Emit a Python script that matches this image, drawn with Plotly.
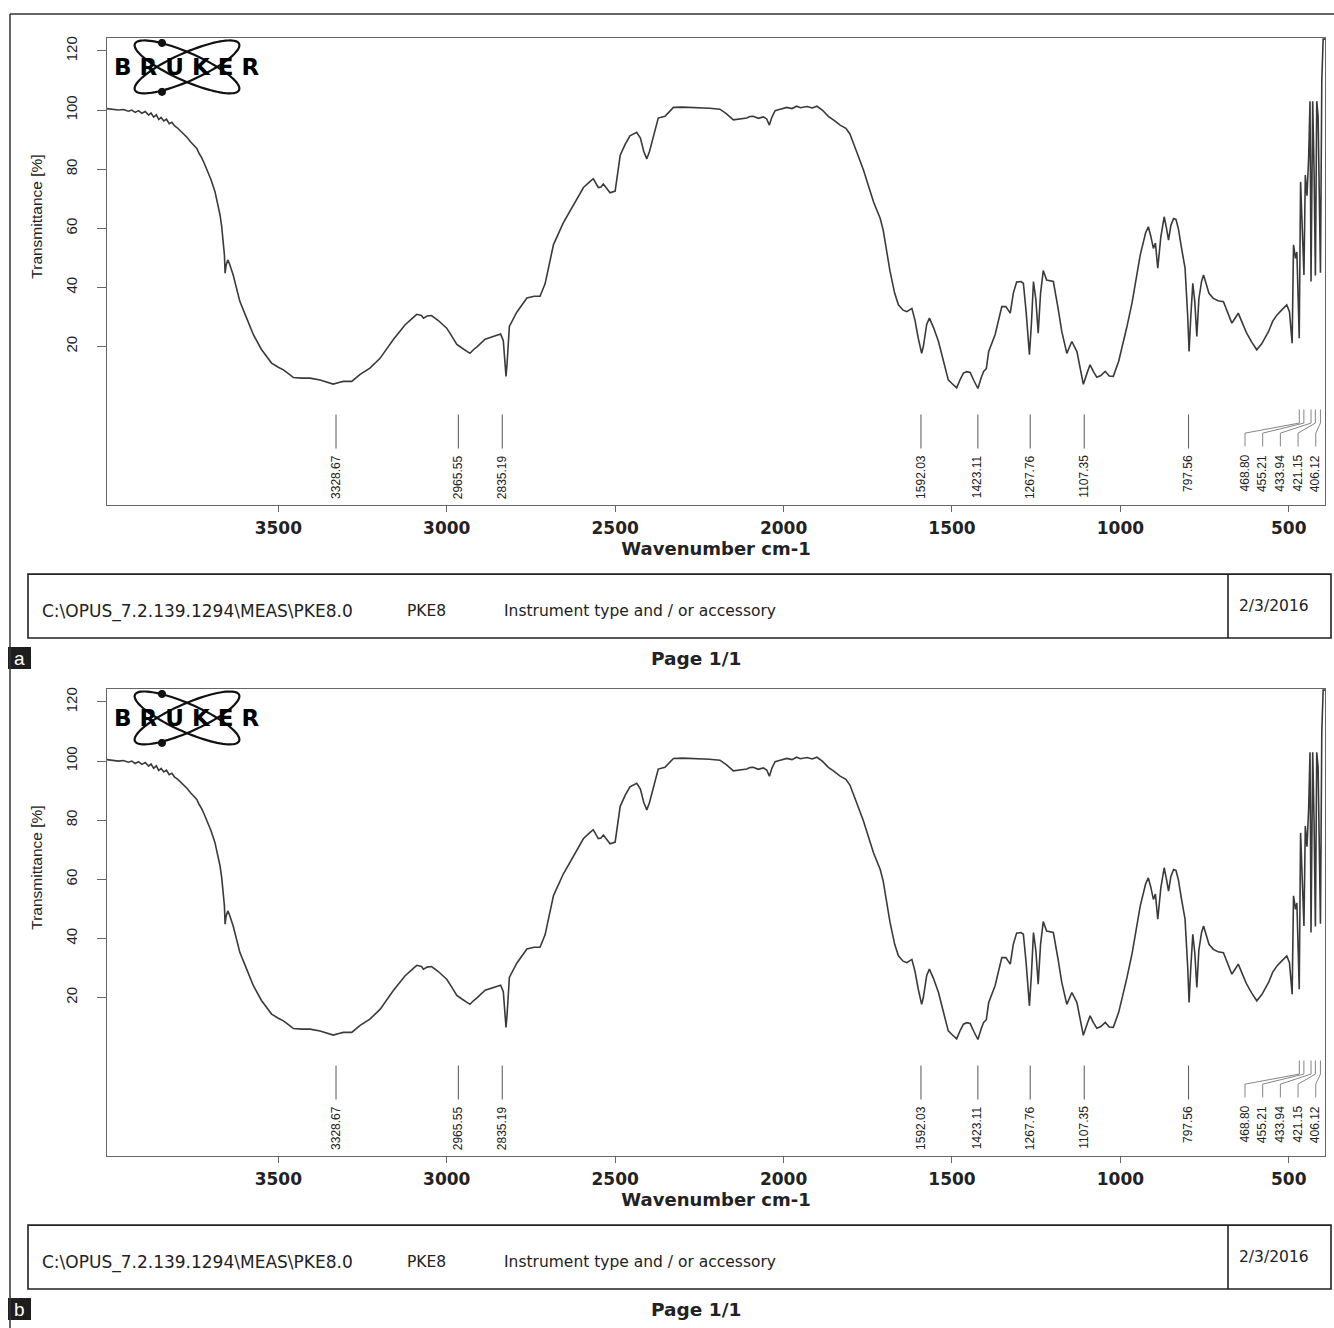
import numpy as np
import plotly.graph_objects as go

W, H = 1334, 1328

# ---------------- data ----------------
wavenumber = [
    4009, 3990, 3975, 3960, 3945, 3935, 3925, 3915, 3905, 3895,
    3885, 3878, 3870, 3862, 3855, 3848, 3840, 3832, 3824, 3816,
    3808, 3800, 3790, 3780, 3772, 3760, 3750, 3742, 3735, 3728,
    3720, 3713, 3700, 3688, 3680, 3673, 3668, 3663, 3660, 3658,
    3655, 3650, 3645, 3634, 3620, 3614, 3594, 3574, 3550, 3520,
    3500, 3485, 3470, 3455, 3430, 3406, 3376, 3355, 3337, 3320,
    3307, 3282, 3257, 3228, 3198, 3159, 3124, 3100, 3089, 3075,
    3069, 3058, 3045, 3025, 3000, 2985, 2970, 2955, 2945, 2931,
    2920, 2911, 2886, 2870, 2852, 2840, 2832, 2826, 2824, 2821,
    2817, 2814, 2792, 2775, 2762, 2740, 2723, 2708, 2695, 2683,
    2654, 2624, 2594, 2575, 2565, 2550, 2542, 2535, 2525, 2515,
    2500, 2485, 2470, 2456, 2436, 2425, 2415, 2406, 2398, 2387,
    2372, 2352, 2340, 2327, 2300, 2258, 2220, 2189, 2170, 2149,
    2130, 2109, 2100, 2090, 2075, 2060, 2050, 2042, 2035, 2025,
    2010, 1990, 1975, 1961, 1950, 1930, 1915, 1901, 1885, 1867,
    1850, 1832, 1815, 1803, 1785, 1763, 1733, 1713, 1704, 1684,
    1670, 1659, 1645, 1634, 1619, 1610, 1600, 1595, 1590, 1585,
    1575, 1567, 1555, 1540, 1525, 1511, 1500, 1486, 1475, 1466,
    1456, 1446, 1435, 1423, 1413, 1406, 1398, 1391, 1372, 1352,
    1340, 1327, 1318, 1308, 1295, 1288, 1280, 1270, 1264, 1258,
    1251, 1244, 1237, 1229, 1219, 1199, 1185, 1174, 1159, 1150,
    1144, 1129, 1118, 1110, 1099, 1090, 1080, 1070, 1058, 1045,
    1033, 1021, 1005, 995, 981, 965, 941, 925, 917, 910,
    902, 896, 889, 880, 870, 863, 857, 850, 842, 835,
    828, 818, 808, 800, 796, 791, 785, 779, 773, 767,
    759, 753, 745, 737, 724, 710, 694, 680, 669, 660,
    650, 638, 625, 610, 595, 580, 560, 548, 535, 520,
    506, 498, 490, 486, 480, 476, 469, 465, 460, 455,
    451, 446, 441, 437, 434, 429, 425, 421, 417, 413,
    406, 402, 398, 392,
]
transmittance = [
    100.5, 100.3, 100.0, 100.2, 99.6, 100.0, 99.2, 99.8, 98.9, 99.5,
    98.3, 99.0, 97.6, 98.4, 96.8, 97.5, 96.3, 96.9, 95.4, 95.9,
    94.6, 94.0, 93.0, 91.8, 90.9, 89.2, 88.0, 87.0, 85.3, 84.0,
    82.0, 80.2, 76.5, 72.4, 68.5, 64.5, 60.5, 55.5, 51.0, 44.8,
    47.5, 49.3, 48.0, 44.2, 38.0, 35.2, 29.6, 24.0, 19.0, 14.4,
    13.0, 12.1, 10.8, 9.5, 9.3, 9.3, 8.7, 8.0, 7.3, 7.8,
    8.2, 8.2, 10.6, 12.7, 16.0, 22.3, 27.3, 29.8, 30.9, 30.5,
    29.6, 30.3, 30.5, 28.8, 26.2, 23.5, 20.7, 19.5, 18.8, 17.7,
    19.0, 19.8, 22.5, 23.0, 23.7, 24.2, 22.0, 12.0, 9.9, 14.0,
    23.0, 26.8, 31.6, 34.5, 36.4, 37.0, 37.0, 41.2, 48.0, 54.5,
    61.8, 67.8, 73.8, 75.8, 76.8, 73.8, 74.0, 75.0, 73.5, 72.0,
    72.6, 84.7, 88.5, 91.3, 92.5, 90.5, 86.0, 83.5, 86.0, 90.7,
    97.3, 97.9, 99.5, 100.9, 101.0, 100.9, 100.6, 100.3, 98.8, 96.7,
    97.0, 97.3, 97.8, 97.9, 97.2, 97.7, 97.0, 94.9, 97.5, 99.8,
    100.3, 100.9, 100.5, 101.3, 100.8, 101.2, 100.7, 101.3, 100.0, 97.9,
    96.5, 94.9, 93.8, 91.9, 86.5, 79.8, 69.0, 63.3, 59.3, 45.5,
    38.0, 34.1, 32.3, 31.8, 32.9, 29.0, 22.8, 20.5, 17.7, 20.0,
    27.5, 29.6, 26.5, 21.7, 15.0, 8.7, 7.5, 6.0, 9.0, 11.0,
    11.5, 11.2, 8.5, 5.8, 9.5, 11.6, 12.5, 18.3, 24.0, 33.5,
    33.5, 31.3, 38.0, 41.8, 42.0, 41.4, 32.0, 17.2, 28.0, 42.0,
    36.0, 24.5, 38.0, 45.7, 42.5, 42.0, 33.0, 25.1, 17.7, 20.5,
    21.7, 18.3, 12.0, 7.2, 11.0, 13.8, 11.5, 9.6, 10.2, 11.6,
    10.0, 9.9, 15.0, 19.5, 26.5, 35.0, 51.0, 58.5, 60.5, 57.5,
    53.2, 55.0, 46.5, 57.0, 63.9, 60.0, 56.0, 61.0, 63.3, 63.0,
    60.0, 53.0, 46.5, 30.0, 18.3, 30.0, 41.4, 35.0, 23.4, 36.0,
    42.0, 44.2, 41.0, 38.0, 36.3, 35.5, 35.2, 31.0, 27.9, 29.5,
    31.3, 28.0, 24.5, 21.5, 18.9, 21.0, 25.1, 28.5, 30.7, 32.5,
    34.1, 31.8, 21.1, 54.4, 49.8, 52.0, 22.8, 75.7, 60.0, 44.2,
    78.0, 71.0, 84.0, 103.0, 42.0, 103.0, 80.0, 44.0, 103.0, 98.0,
    45.0, 110.0, 124.0, 124.0,
]
assert len(wavenumber) == len(transmittance)

peak_labels = [3328.67, 2965.55, 2835.19, 1592.03, 1423.11, 1267.76, 1107.35, 797.56]
cluster_labels = [468.80, 455.21, 433.94, 421.15, 406.12]

x_ticks = [3500, 3000, 2500, 2000, 1500, 1000, 500]
y_ticks = [20, 40, 60, 80, 100, 120]

file_path = "C:\\OPUS_7.2.139.1294\\MEAS\\PKE8.0"
sample_name = "PKE8"
instrument = "Instrument type and / or accessory"
date_text = "2/3/2016"
page_text = "Page 1/1"
panel_letters = ["a", "b"]

# ---------------- layout helpers ----------------
def px(x):
    return x / W


def py(y):
    return 1 - y / H


X_RANGE = [4008.6, 392.5]
Y_RANGE = [-33.7, 124.4]
PLOT_L, PLOT_R, PLOT_T, PLOT_B = 107, 1325, 36, 504
DY = 652

INK = "#222222"
FRAME = "#666666"
NARROW = "Liberation Sans, Arial, sans-serif"
WIDE = "DejaVu Sans, Verdana, sans-serif"

fig = go.Figure()
shapes = []
annotations = []

for i, dy in enumerate([0, DY]):
    sfx = "" if i == 0 else "2"
    xa, ya = "x" + sfx, "y" + sfx

    fig.add_trace(go.Scatter(
        x=wavenumber, y=transmittance, mode="lines",
        line=dict(color="#3a3a3a", width=1.6),
        xaxis=xa, yaxis=ya, showlegend=False, hoverinfo="skip",
    ))

    # single peak labels
    for wn in peak_labels:
        shapes.append(dict(type="line", xref=xa, yref=ya, x0=wn, x1=wn, y0=-3.0, y1=-14.5,
                           line=dict(color="#555", width=1)))
        annotations.append(dict(xref=xa, yref=ya, x=wn, y=-16.0, text=f"{wn:.2f}",
                                textangle=-90, showarrow=False, xanchor="center", yanchor="top",
                                font=dict(family=NARROW, size=12, color=INK)))
    # clustered labels with leader lines
    text_x = np.linspace(630, 420, len(cluster_labels))
    for wn, tx in zip(cluster_labels, text_x):
        shapes.append(dict(type="path", xref=xa, yref=ya,
                           path=f"M {wn},-1.3 L {wn},-5.9 L {tx},-9.3 L {tx},-13.8",
                           line=dict(color="#777", width=0.9)))
        annotations.append(dict(xref=xa, yref=ya, x=tx, y=-16.0, text=f"{wn:.2f}",
                                textangle=-90, showarrow=False, xanchor="center", yanchor="top",
                                font=dict(family=NARROW, size=12, color=INK)))

    # y-axis title
    annotations.append(dict(xref="paper", yref="paper", x=px(37), y=py(215 + dy),
                            text="Transmittance [%]", textangle=-90, showarrow=False,
                            xanchor="center", yanchor="middle",
                            font=dict(family=NARROW, size=15.5, color=INK)))

    # Bruker logo: two crossed ellipses + text
    cx, cy = 187, 65 + dy
    a_ax, b_ax = 57, 14
    phi = np.linspace(0, 2 * np.pi, 90)
    for ang in (np.deg2rad(24), np.deg2rad(-24)):
        ex = cx + a_ax * np.cos(phi) * np.cos(ang) - b_ax * np.sin(phi) * np.sin(ang)
        ey = cy + a_ax * np.cos(phi) * np.sin(ang) + b_ax * np.sin(phi) * np.cos(ang)
        path = "M " + " L ".join(f"{px(u):.5f},{py(v):.5f}" for u, v in zip(ex, ey)) + " Z"
        shapes.append(dict(type="path", xref="paper", yref="paper", path=path,
                           line=dict(color="#111", width=2.2)))
    for (dx_, dy_) in [(162, 41), (162, 90)]:
        r = 3.6
        shapes.append(dict(type="circle", xref="paper", yref="paper",
                           x0=px(dx_ - r), x1=px(dx_ + r), y0=py(dy_ + dy + r), y1=py(dy_ + dy - r),
                           fillcolor="#111", line=dict(color="#111", width=1)))
    annotations.append(dict(xref="paper", yref="paper", x=px(190), y=py(65 + dy),
                            text='<span style="letter-spacing:8px">BRUKER</span>',
                            showarrow=False, xanchor="center", yanchor="middle",
                            font=dict(family=WIDE, size=23, color="#000", weight="bold")))

    # info box
    bt, bb = 573 + dy, 637 + dy
    shapes.append(dict(type="rect", xref="paper", yref="paper", x0=px(28), x1=px(1331),
                       y0=py(bb), y1=py(bt), line=dict(color="#222", width=1.6)))
    shapes.append(dict(type="line", xref="paper", yref="paper", x0=px(1228), x1=px(1228),
                       y0=py(bb), y1=py(bt), line=dict(color="#222", width=1.6)))
    for txt, x0, fs in [(file_path, 40, 17), (sample_name, 405, 15.5), (instrument, 502, 15.5)]:
        annotations.append(dict(xref="paper", yref="paper", x=px(x0), y=py(610 + dy), text=txt,
                                showarrow=False, xanchor="left", yanchor="middle",
                                font=dict(family=WIDE, size=fs, color=INK)))
    annotations.append(dict(xref="paper", yref="paper", x=px(1237), y=py(605 + dy), text=date_text,
                            showarrow=False, xanchor="left", yanchor="middle",
                            font=dict(family=WIDE, size=15.5, color=INK)))
    annotations.append(dict(xref="paper", yref="paper", x=px(696), y=py(657 + dy), text=page_text,
                            showarrow=False, xanchor="center", yanchor="middle",
                            font=dict(family=WIDE, size=18.5, color=INK, weight="bold")))

    # panel letter
    lt = 646 + dy
    shapes.append(dict(type="rect", xref="paper", yref="paper", x0=px(8), x1=px(31),
                       y0=py(lt + 22), y1=py(lt), fillcolor="#1e1e1e", line=dict(width=0)))
    annotations.append(dict(xref="paper", yref="paper", x=px(19.5), y=py(lt + 11),
                            text=panel_letters[i], showarrow=False, xanchor="center", yanchor="middle",
                            font=dict(family="Liberation Sans, Arial, sans-serif", size=19, color="#ffffff")))

# outer page border (top and left)
shapes.append(dict(type="line", xref="paper", yref="paper", x0=px(10), x1=1, y0=py(12), y1=py(12),
                   line=dict(color="#333", width=1.5)))
shapes.append(dict(type="line", xref="paper", yref="paper", x0=px(10), x1=px(10), y0=0, y1=py(12),
                   line=dict(color="#333", width=1.5)))

xaxis_common = dict(
    range=X_RANGE, tickvals=x_ticks, ticktext=[str(v) for v in x_ticks],
    ticks="outside", ticklen=6, tickwidth=1.2, tickcolor=FRAME,
    showline=True, linecolor=FRAME, linewidth=1.2, mirror=True,
    showgrid=False, zeroline=False,
    tickfont=dict(family=WIDE, size=17, color=INK, weight="bold"),
    ticklabelstandoff=1,
    title=dict(text="Wavenumber cm-1", font=dict(family=WIDE, size=18, color=INK, weight="bold"),
               standoff=3),
    domain=[px(PLOT_L), px(PLOT_R)],
)
yaxis_common = dict(
    range=Y_RANGE, tickvals=y_ticks, ticks="outside", ticklen=9, tickwidth=1.2, tickcolor=FRAME,
    showline=True, linecolor=FRAME, linewidth=1.2, mirror=True,
    showgrid=False, zeroline=False, tickangle=-90,
    tickfont=dict(family=NARROW, size=15, color=INK),
    ticklabelstandoff=14,
)

fig.update_layout(
    width=W, height=H, margin=dict(l=0, r=0, t=0, b=0),
    paper_bgcolor="white", plot_bgcolor="white",
    xaxis=dict(**xaxis_common, anchor="y"),
    yaxis=dict(**yaxis_common, anchor="x", domain=[py(PLOT_B), py(PLOT_T)]),
    xaxis2=dict(**xaxis_common, anchor="y2"),
    yaxis2=dict(**yaxis_common, anchor="x2", domain=[py(PLOT_B + DY), py(PLOT_T + DY)]),
    shapes=shapes, annotations=annotations, showlegend=False,
)

fig.write_html("out.html")
